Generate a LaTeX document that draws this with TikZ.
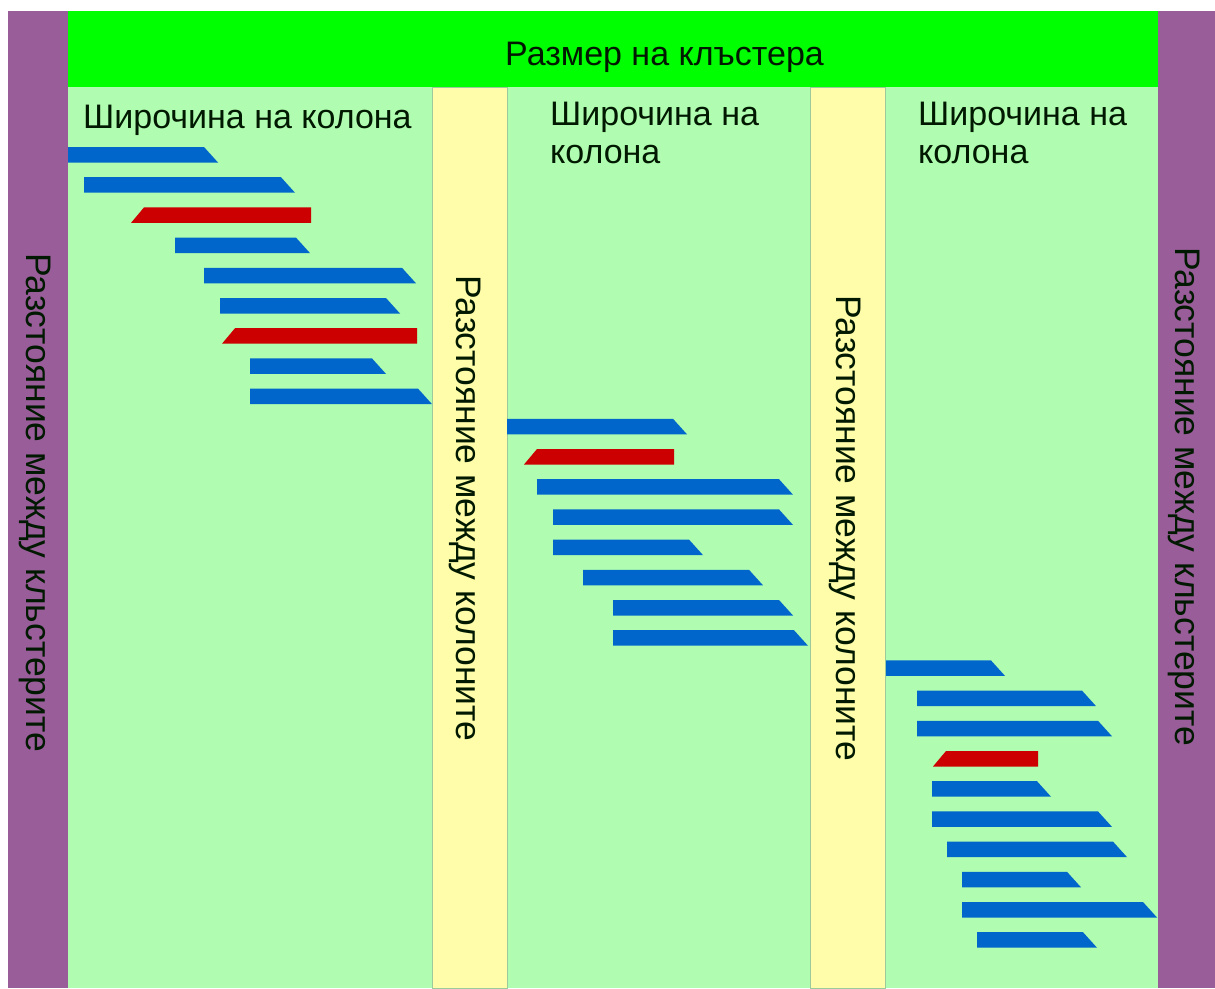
\documentclass[tikz,border=0pt]{standalone}
\usepackage{fontspec}
\setmainfont{Liberation Sans}
\definecolor{clusterpurple}{RGB}{153,93,153}
\definecolor{sizegreen}{RGB}{0,255,0}
\definecolor{columngreen}{RGB}{176,252,176}
\definecolor{gapyellow}{RGB}{255,252,170}
\definecolor{barblue}{RGB}{0,102,204}
\definecolor{barred}{RGB}{204,0,0}
\tikzset{
  boxtext/.style={font=\fontsize{34}{40}\selectfont, inner sep=0pt, text=black!90!green},
  sidetext/.style={boxtext, font=\fontsize{35.5}{40}\selectfont, rotate=-90, anchor=base west},
  blue bar/.style={fill=barblue},
  red bar/.style={fill=barred},
}
\begin{document}
\begin{tikzpicture}[x=1pt,y=-1pt]
  \useasboundingbox[fill=white] (0,0) rectangle (1215,988);

  % cluster gaps and the cluster size band
  \fill[clusterpurple] (8,11) rectangle (68,988);
  \fill[clusterpurple] (1158,11) rectangle (1215,988);
  \fill[sizegreen] (68,11) rectangle (1158,87);

  % columns and the gaps between them
  \fill[columngreen] (68,87) rectangle (1158,988);
  \foreach \x in {432,810} {
    \filldraw[fill=gapyellow, draw=columngreen!60!gray, line width=0.6pt] (\x,87) rectangle (\x+75,988);
  }

  % blue bars, slanted on the right
  \foreach \a/\b/\k in {68/218/0, 84/295/1, 175/310/3, 204/416/4, 220/400/5,
      250/386/7, 250/432/8, 507/687/9, 537/793/11, 553/793/12, 553/703/13,
      583/763/14, 613/793/15, 613/808/16, 886/1005/17, 917/1096/18,
      917/1112/19, 932/1051/21, 932/1112/22, 947/1127/23, 962/1081/24,
      962/1157/25, 977/1097/26} {
    \pgfmathsetmacro{\ytop}{147+30.2*\k}
    \fill[blue bar] (\a,\ytop) -- (\b-14,\ytop) -- (\b,\ytop+15.5) -- (\a,\ytop+15.5) -- cycle;
  }

  % red bars, slanted on the left
  \foreach \a/\b/\k in {131/311/2, 222/417/6, 524/674/10, 933/1038/20} {
    \pgfmathsetmacro{\ytop}{147+30.2*\k}
    \fill[red bar] (\a+13,\ytop) -- (\b,\ytop) -- (\b,\ytop+15.5) -- (\a,\ytop+15.5) -- cycle;
  }

  % texts
  \node[boxtext, anchor=base west] (size) at (505,65) {Размер на клъстера};
  \node[boxtext, anchor=base west] (width1) at (83,128) {Широчина на колона};
  \node[boxtext, anchor=base west] (width2) at (550,125) {Широчина на};
  \node[boxtext, anchor=base west] (width2b) at (550,163) {колона};
  \node[boxtext, anchor=base west] (width3) at (918,125) {Широчина на};
  \node[boxtext, anchor=base west] (width3b) at (918,163) {колона};

  \node[sidetext] (clustergapL) at (27,253) {Разстояние между кльстерите};
  \node[sidetext] (columngap1) at (456,275) {Разстояние между колоните};
  \node[sidetext] (columngap2) at (836,295) {Разстояние между колоните};
  \node[sidetext] (clustergapR) at (1175,247) {Разстояние между кльстерите};
\end{tikzpicture}
\end{document}
